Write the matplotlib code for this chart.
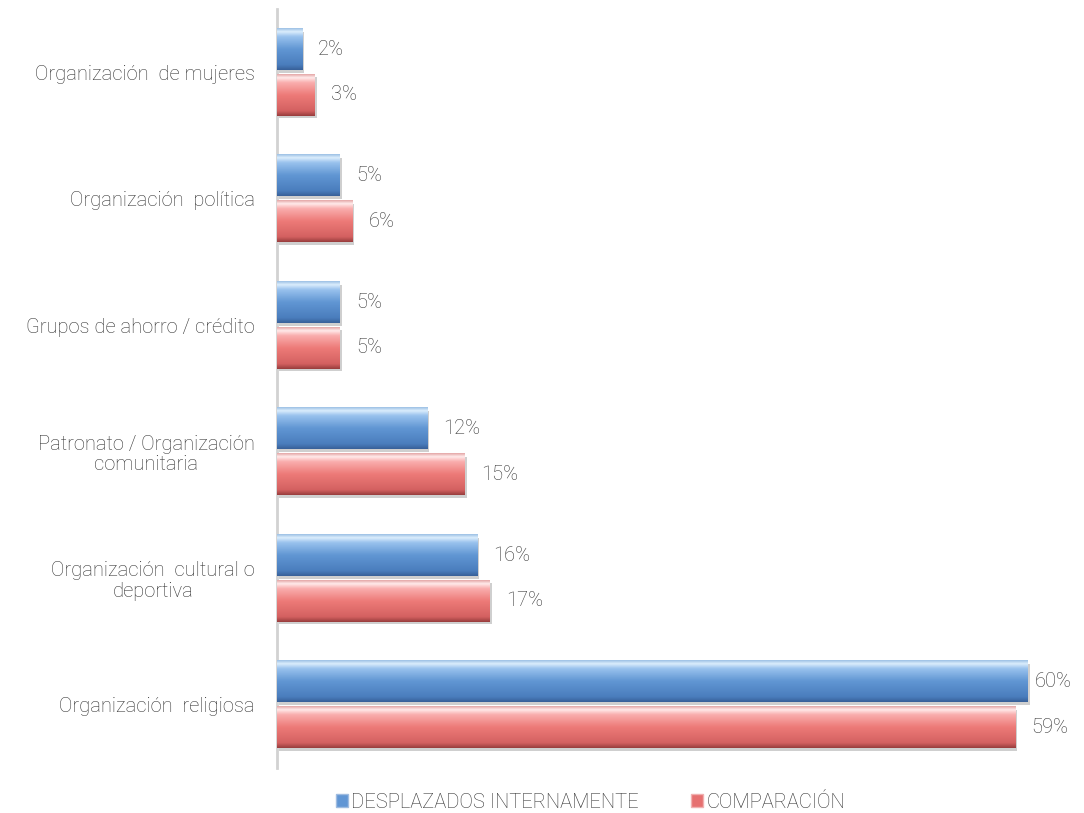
import matplotlib
matplotlib.use("Agg")
import matplotlib.pyplot as plt
import numpy as np
from matplotlib.patches import Patch
from matplotlib import patheffects as pe

categories = ["Organización  de mujeres", "Organización  política", "Grupos de ahorro / crédito",
              "Patronato / Organización\ncomunitaria", "Organización  cultural o\ndeportiva",
              "Organización  religiosa"]
desplazados = [2, 5, 5, 12, 16, 60]
comparacion = [3, 6, 5, 15, 17, 59]
series_names = ["DESPLAZADOS INTERNAMENTE", "COMPARACIÓN"]

plt.rcParams['font.family'] = ['Roboto', 'DejaVu Sans']
plt.rcParams['font.weight'] = 'light'
TXT = '#333333'
FS = 14.5

fig = plt.figure(figsize=(10.84, 8.13), dpi=100)
ax = fig.add_axes([0.2555, 0.0554, 0.7445, 0.9336])

n = len(categories)
ypos = np.arange(n)[::-1]  # first category on top
off = 0.18
h = 0.325

stops = [0.0, 0.12, 0.5, 0.8, 0.92, 1.0]
blue_grad = [(0.22, 0.38, 0.60), (0.29, 0.49, 0.74), (0.38, 0.59, 0.83), (0.60, 0.76, 0.93), (0.86, 0.93, 0.99), (0.62, 0.76, 0.90)]
red_grad = [(0.60, 0.24, 0.24), (0.83, 0.38, 0.38), (0.93, 0.48, 0.47), (0.98, 0.68, 0.68), (1.0, 0.92, 0.92), (0.90, 0.66, 0.66)]

def grad_img(cols):
    t = np.linspace(0, 1, 80)
    arr = np.zeros((80, 1, 3))
    cols = np.array(cols)
    for c in range(3):
        arr[:, 0, c] = np.interp(t, stops, cols[:, c])
    return arr

sets = [(desplazados, off, blue_grad, (0.31, 0.51, 0.77)), (comparacion, -off, red_grad, (0.90, 0.44, 0.44))]
for vals, o, grad, base in sets:
    bars = ax.barh(ypos + o, vals, height=h, color=base, edgecolor='none',
                   path_effects=[pe.SimplePatchShadow(offset=(1.5, -2), shadow_rgbFace='#777777', alpha=0.35), pe.Normal()],
                   zorder=2)
    img = grad_img(grad)
    for b, v in zip(bars, vals):
        x0, y0 = b.get_x(), b.get_y()
        w, hh = b.get_width(), b.get_height()
        ax.imshow(img, extent=(x0, x0 + w, y0, y0 + hh), origin='lower', aspect='auto',
                  interpolation='bilinear', zorder=3)
        ax.text(min(x0 + w + 1.3, 60.6), y0 + hh / 2, f"{v}%", va='center', ha='left',
                fontsize=FS, color=TXT, zorder=4)

ax.set_xlim(0, 64.5)
ax.set_ylim(-0.5, n - 0.5)
ax.set_yticks(ypos)
ax.set_yticklabels(categories, fontsize=FS, color=TXT, multialignment='center', linespacing=1.1)
ax.tick_params(axis='y', length=0, pad=16)
ax.set_xticks([])
for s in ['top', 'right', 'bottom']:
    ax.spines[s].set_visible(False)
ax.spines['left'].set_color('#d2d2d2')
ax.spines['left'].set_linewidth(2)

handles = [Patch(facecolor=(0.38, 0.59, 0.83), edgecolor='#9fbce0', label=series_names[0]),
           Patch(facecolor=(0.90, 0.44, 0.44), edgecolor='#f0b0b0', label=series_names[1])]
fig.legend(handles=handles, loc='center', bbox_to_anchor=(0.545, 0.013), ncol=2, frameon=False,
           fontsize=14.5, labelcolor=TXT, handlelength=0.6, handleheight=0.6,
           handletextpad=0.15, columnspacing=2.6, borderpad=0)

fig.savefig("out.png", dpi=100)
